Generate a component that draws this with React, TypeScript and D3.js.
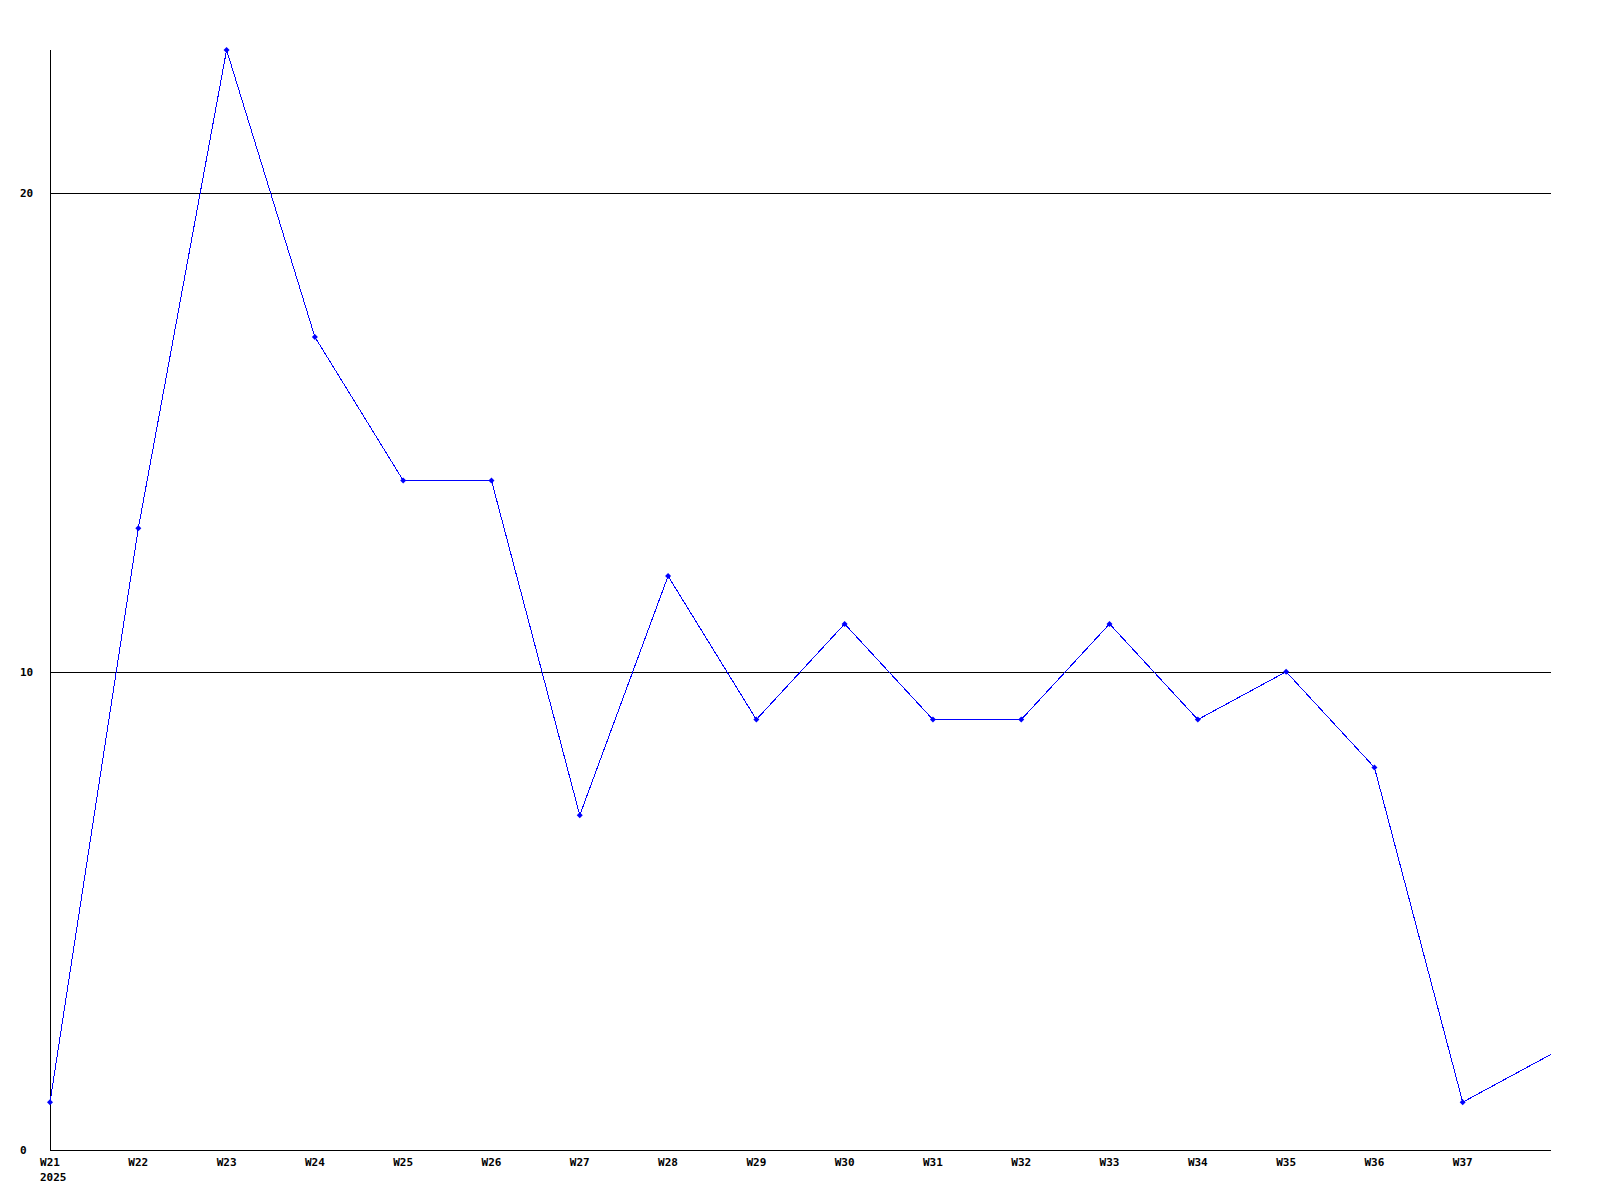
import { useEffect, useRef } from "react";
import * as d3 from "d3";

// weekly counts, W21 .. W38 (last point sits on the right edge, unlabeled)
const weeks = [
  "W21", "W22", "W23", "W24", "W25", "W26", "W27", "W28", "W29",
  "W30", "W31", "W32", "W33", "W34", "W35", "W36", "W37", "W38",
];
const counts = [1, 13, 23, 17, 14, 14, 7, 12, 9, 11, 9, 9, 11, 9, 10, 8, 1, 2];
const tickLabels = [
  "W21", "W22", "W23", "W24", "W25", "W26", "W27", "W28", "W29",
  "W30", "W31", "W32", "W33", "W34", "W35", "W36", "W37",
];
const yTicks = [0, 10, 20];
const yearLabel = "2025";

const width = 1600;
const height = 1200;

export default function App() {
  const svgRef = useRef<SVGSVGElement | null>(null);

  useEffect(() => {
    if (!svgRef.current) return;
    const margin = { top: 50, right: 49, bottom: 50, left: 50 };
    const innerW = width - margin.left - margin.right;
    const innerH = height - margin.top - margin.bottom;

    const svg = d3.select(svgRef.current);
    svg.selectAll("*").remove();
    const g = svg
      .append("g")
      .attr("transform", `translate(${margin.left},${margin.top})`);

    const x = d3
      .scalePoint<string>()
      .domain(weeks)
      .range([0, innerW]);

    const y = d3.scaleLinear().domain([0, 23]).range([innerH, 0]);

    const font = "'DejaVu Sans Mono', monospace";

    // grid lines
    g.selectAll("line.grid")
      .data(yTicks.filter((v) => v > 0))
      .enter()
      .append("line")
      .attr("class", "grid")
      .attr("x1", 0)
      .attr("x2", innerW)
      .attr("y1", (d) => Math.round(y(d)) + 0.5)
      .attr("y2", (d) => Math.round(y(d)) + 0.5)
      .attr("stroke", "#000")
      .attr("shape-rendering", "crispEdges");

    // axes
    g.append("line")
      .attr("x1", 0.5)
      .attr("x2", 0.5)
      .attr("y1", 0)
      .attr("y2", innerH)
      .attr("stroke", "#000")
      .attr("shape-rendering", "crispEdges");
    g.append("line")
      .attr("x1", 0)
      .attr("x2", innerW)
      .attr("y1", innerH + 0.5)
      .attr("y2", innerH + 0.5)
      .attr("stroke", "#000")
      .attr("shape-rendering", "crispEdges");

    // y labels
    g.selectAll("text.ylab")
      .data(yTicks)
      .enter()
      .append("text")
      .attr("class", "ylab")
      .attr("x", -30)
      .attr("y", (d) => y(d))
      .attr("dy", "0.35em")
      .attr("font-family", font)
      .attr("font-weight", "bold")
      .attr("font-size", 11)
      .attr("fill", "#000")
      .text((d) => String(d));

    // x labels
    g.selectAll("text.xlab")
      .data(tickLabels)
      .enter()
      .append("text")
      .attr("class", "xlab")
      .attr("x", (d) => x(d) || 0)
      .attr("y", innerH + 16)
      .attr("text-anchor", "middle")
      .attr("font-family", font)
      .attr("font-weight", "bold")
      .attr("font-size", 11)
      .attr("fill", "#000")
      .text((d) => d);

    g.append("text")
      .attr("x", (x(weeks[0]) || 0) - 10)
      .attr("y", innerH + 31)
      .attr("font-family", font)
      .attr("font-weight", "bold")
      .attr("font-size", 11)
      .attr("fill", "#000")
      .text(yearLabel);

    const pts = weeks.map((w, i) => ({ w, v: counts[i] }));

    const line = d3
      .line<{ w: string; v: number }>()
      .x((d) => x(d.w) || 0)
      .y((d) => y(d.v));

    g.append("path")
      .datum(pts)
      .attr("d", line)
      .attr("fill", "none")
      .attr("stroke", "#0000ff")
      .attr("stroke-width", 1)
      .attr("shape-rendering", "crispEdges");

    // small diamond markers (not on the clipped last point)
    g.selectAll("path.mark")
      .data(pts.slice(0, -1))
      .enter()
      .append("path")
      .attr("class", "mark")
      .attr(
        "transform",
        (d) => `translate(${x(d.w) || 0},${y(d.v)})`
      )
      .attr("d", "M0,-3L3,0L0,3L-3,0Z")
      .attr("fill", "#0000ff");
  }, []);

  return (
    <svg
      ref={svgRef}
      width={width}
      height={height}
      style={{ position: "absolute", left: 0, top: 0, background: "#fff" }}
    />
  );
}
